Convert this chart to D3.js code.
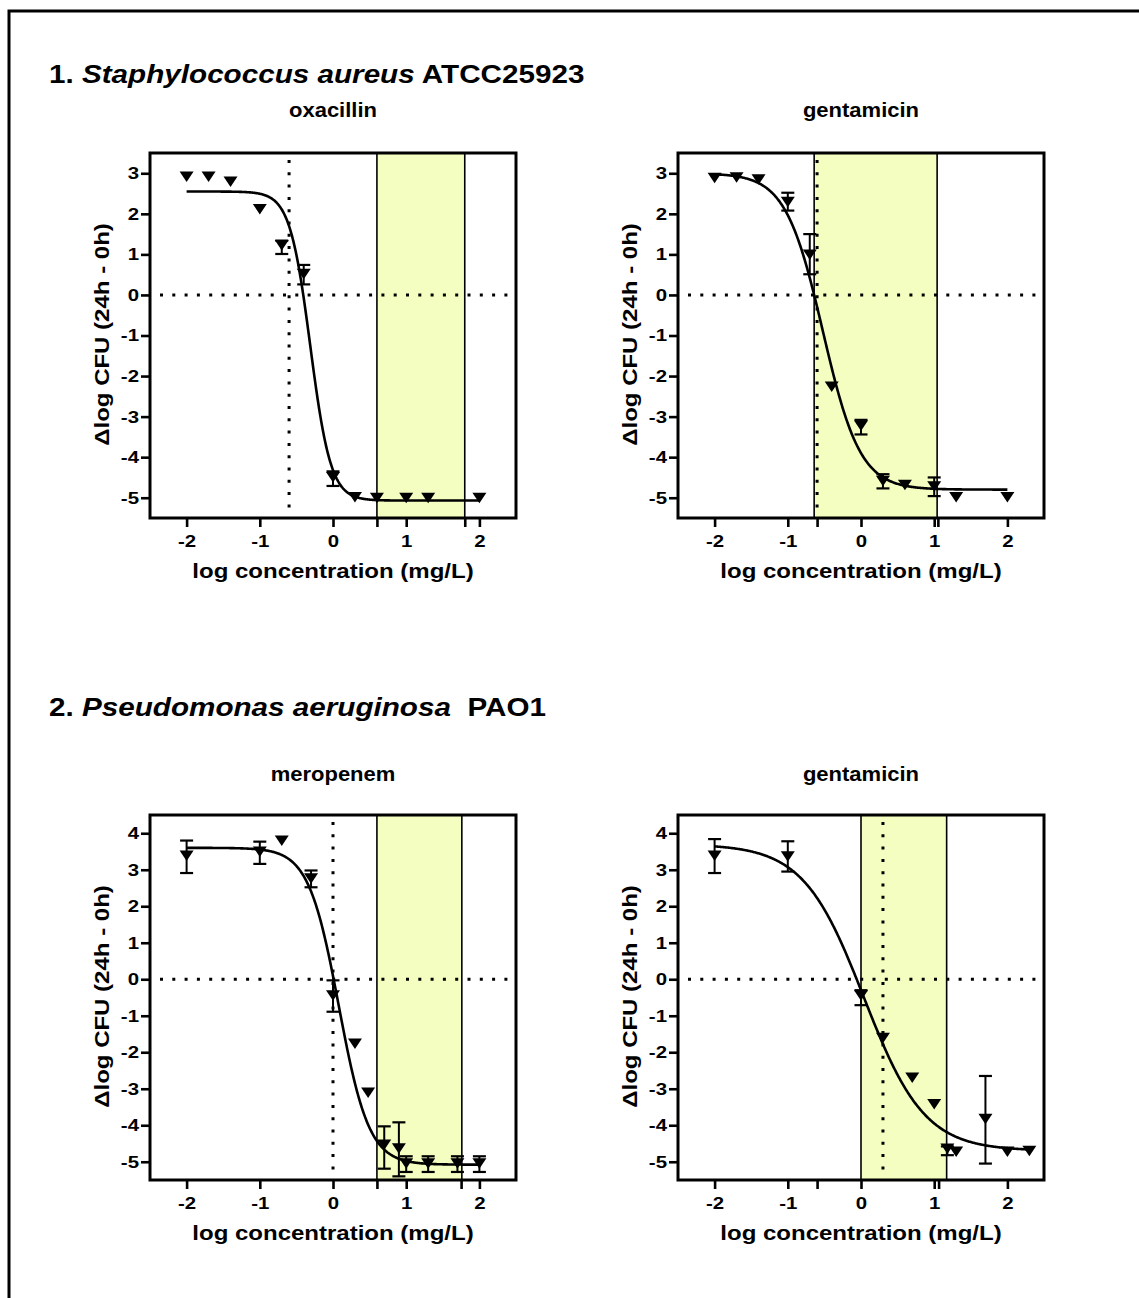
<!DOCTYPE html>
<html>
<head>
<meta charset="utf-8">
<script src="https://cdn.jsdelivr.net/npm/d3@7"></script>
<style>
body { margin: 0; background: #fff; }
text { font-family: "Liberation Sans", Arial, sans-serif; font-weight: bold; fill: #000; }
</style>
</head>
<body>
<svg id="fig" width="1139" height="1298"></svg>
<script>
// ---- data ----
// 1. S. aureus / oxacillin
var saOxaX  = [-2, -1.7, -1.4, -1, -0.7, -0.4, 0, 0.3, 0.6, 1, 1.3, 2];
var saOxaY  = [2.92, 2.92, 2.8, 2.12, 1.23, 0.52, -4.49, -4.98, -5.0, -5.0, -5.0, -5.0];
var saOxaLo = [null, null, null, null, 1.01, 0.26, -4.71, null, null, null, null, null];
var saOxaHi = [null, null, null, null, 1.34, 0.74, -4.35, null, null, null, null, null];
// 1. S. aureus / gentamicin
var saGenX  = [-2, -1.7, -1.4, -1, -0.7, -0.4, 0, 0.3, 0.6, 1, 1.3, 2];
var saGenY  = [2.89, 2.9, 2.85, 2.3, 1.0, -2.26, -3.22, -4.58, -4.68, -4.72, -4.98, -4.98];
var saGenLo = [null, null, null, 2.08, 0.51, null, -3.44, -4.77, null, -4.96, null, null];
var saGenHi = [null, null, null, 2.52, 1.5, null, -3.08, -4.42, null, -4.5, null, null];
// 2. P. aeruginosa / meropenem
var paMerX  = [-2, -1, -0.7, -0.3, 0, 0.3, 0.48, 0.7, 0.9, 1, 1.3, 1.7, 2];
var paMerY  = [3.39, 3.5, 3.8, 2.77, -0.44, -1.76, -3.1, -4.53, -4.63, -5.04, -5.04, -5.04, -5.04];
var paMerLo = [2.91, 3.16, null, 2.52, -0.89, null, null, -5.19, -5.4, -5.28, -5.28, -5.28, -5.28];
var paMerHi = [3.8, 3.77, null, 2.98, -0.03, null, null, -4.03, -3.92, -4.85, -4.85, -4.85, -4.85];
// 2. P. aeruginosa / gentamicin
var paGenX  = [-2, -1, 0, 0.3, 0.7, 1, 1.18, 1.3, 1.7, 2, 2.3];
var paGenY  = [3.39, 3.37, -0.44, -1.6, -2.69, -3.42, -4.64, -4.72, -3.82, -4.72, -4.7];
var paGenLo = [2.91, 2.95, -0.71, null, null, null, -4.82, null, -5.05, null, null];
var paGenHi = [3.84, 3.78, -0.3, null, null, null, -4.58, null, -2.65, null, null];

// sigmoid fits (top, bottom, logEC50, hill slope) and fitted x range, per panel
var fitTop    = [2.55, 3.0, 3.6, 3.7];
var fitBottom = [-5.07, -4.8, -5.08, -4.7];
var fitLogEC  = [-0.31, -0.52, 0.08, 0.04];
var fitHill   = [3.1, 1.7, 2.1, 1.05];
var fitFrom   = [-2, -2, -2, -2];
var fitTo     = [2, 2, 2, 2.3];

// reference lines, shaded ranges, extra x ticks
var dotX      = [-0.6, -0.6, 0, 0.3];
var bandFrom  = [0.6, -0.64, 0.6, 0];
var bandTo    = [1.8, 1.04, 1.76, 1.17];
var extraTick = [[0.6, 1.8], [-0.6, 1.05], [0.6, 1.75], [-0.6, 1.06]];

var xTicks  = [-2, -1, 0, 1, 2];
var yTicks1 = [-5, -4, -3, -2, -1, 0, 1, 2, 3];
var yTicks2 = [-5, -4, -3, -2, -1, 0, 1, 2, 3, 4];
var drugs   = ["oxacillin", "gentamicin", "meropenem", "gentamicin"];

var svg = d3.select("#fig");
var STRETCH = 1.2;

function widen(sel, f) {
	sel.each(function() {
		var len = this.getComputedTextLength();
		d3.select(this).attr("textLength", len * f).attr("lengthAdjust", "spacingAndGlyphs");
	});
}

svg.append("rect").attr("x", 9).attr("y", 11).attr("width", 1160).attr("height", 1320)
	.attr("fill", "none").attr("stroke", "#000").attr("stroke-width", 3);

function panel(i, left, top, yDom, yTicks, xs, ys, lo, hi, subY) {
	var w = 366, h = 365;
	var x = d3.scaleLinear().domain([-2.5, 2.5]).range([left, left + w]);
	var y = d3.scaleLinear().domain(yDom).range([top + h, top]);
	var g = svg.append("g");

	// shaded range
	g.append("rect").attr("x", x(bandFrom[i])).attr("y", top)
		.attr("width", x(bandTo[i]) - x(bandFrom[i])).attr("height", h)
		.attr("fill", "#f3fec0");
	[bandFrom[i], bandTo[i]].forEach(function(v) {
		g.append("line").attr("x1", x(v)).attr("x2", x(v)).attr("y1", top).attr("y2", top + h)
			.attr("stroke", "#000").attr("stroke-width", 1.6);
	});

	// dotted reference lines
	g.append("line").attr("x1", left + 10).attr("x2", left + w - 6).attr("y1", y(0)).attr("y2", y(0))
		.attr("stroke", "#000").attr("stroke-width", 3).attr("stroke-dasharray", "3,9.3");
	g.append("line").attr("x1", x(dotX[i])).attr("x2", x(dotX[i])).attr("y1", top + 7).attr("y2", top + h - 6)
		.attr("stroke", "#000").attr("stroke-width", 3).attr("stroke-dasharray", "3,9.3");

	// fitted curve
	var T = fitTop[i], B = fitBottom[i], C = fitLogEC[i], H = fitHill[i];
	var cx = d3.range(fitFrom[i], fitTo[i] + 0.001, 0.01);
	var line = d3.line()
		.x(function(d) { return x(d); })
		.y(function(d) { return y(B + (T - B) / (1 + Math.pow(10, (d - C) * H))); });
	g.append("path").datum(cx).attr("d", line)
		.attr("fill", "none").attr("stroke", "#000").attr("stroke-width", 2.6);

	// error bars
	var pts = xs.map(function(v, k) { return {x: v, y: ys[k], lo: lo[k], hi: hi[k]}; });
	var eb = pts.filter(function(d) { return d.lo != null; });
	g.selectAll(".eb").data(eb).enter().append("line")
		.attr("x1", function(d) { return x(d.x); }).attr("x2", function(d) { return x(d.x); })
		.attr("y1", function(d) { return y(d.lo); }).attr("y2", function(d) { return y(d.hi); })
		.attr("stroke", "#000").attr("stroke-width", 2);
	["lo", "hi"].forEach(function(key) {
		g.selectAll(".cap" + key).data(eb).enter().append("line")
			.attr("x1", function(d) { return x(d.x) - 6.5; }).attr("x2", function(d) { return x(d.x) + 6.5; })
			.attr("y1", function(d) { return y(d[key]); }).attr("y2", function(d) { return y(d[key]); })
			.attr("stroke", "#000").attr("stroke-width", 2.2);
	});

	// markers: filled down-triangles
	g.selectAll(".pt").data(pts).enter().append("path")
		.attr("d", "M-7,-5L7,-5L0,5.5Z")
		.attr("transform", function(d) { return "translate(" + x(d.x) + "," + y(d.y) + ")"; })
		.attr("fill", "#000");

	// frame
	g.append("rect").attr("x", left).attr("y", top).attr("width", w).attr("height", h)
		.attr("fill", "none").attr("stroke", "#000").attr("stroke-width", 3);

	// axes
	var fmt = function(d) { return String(d); };
	var xa = g.append("g").attr("transform", "translate(0," + (top + h) + ")")
		.call(d3.axisBottom(x).tickValues(xTicks).tickSize(9).tickPadding(8).tickFormat(fmt));
	var xe = g.append("g").attr("transform", "translate(0," + (top + h) + ")")
		.call(d3.axisBottom(x).tickValues(extraTick[i]).tickSize(9).tickFormat(""));
	var ya = g.append("g").attr("transform", "translate(" + left + ",0)")
		.call(d3.axisLeft(y).tickValues(yTicks).tickSize(9).tickPadding(2).tickFormat(fmt));
	[xa, xe, ya].forEach(function(a) {
		a.attr("font-size", null).attr("font-family", null);
		a.select(".domain").remove();
		a.selectAll(".tick line").attr("stroke-width", 2.6);
		a.selectAll("text").attr("font-size", 17);
	});
	widen(xa.selectAll("text"), 1.2);
	widen(ya.selectAll("text"), 1.2);

	// labels
	var xl = g.append("text").attr("x", left + w / 2).attr("y", top + h + 60)
		.attr("text-anchor", "middle").attr("font-size", 20).text("log concentration (mg/L)");
	widen(xl, STRETCH);
	var yl = g.append("text").attr("transform", "translate(" + (left - 41) + "," + (top + h / 2 - 1) + ") rotate(-90)")
		.attr("text-anchor", "middle").attr("font-size", 20).text("\u0394log CFU (24h - 0h)");
	widen(yl, STRETCH);
	var st = g.append("text").attr("x", left + w / 2).attr("y", subY)
		.attr("text-anchor", "middle").attr("font-size", 20).text(drugs[i]);
	widen(st, 1.1);
}

panel(0, 150, 153, [-5.5, 3.5], yTicks1, saOxaX, saOxaY, saOxaLo, saOxaHi, 117);
panel(1, 678, 153, [-5.5, 3.5], yTicks1, saGenX, saGenY, saGenLo, saGenHi, 117);
panel(2, 150, 815, [-5.5, 4.5], yTicks2, paMerX, paMerY, paMerLo, paMerHi, 781);
panel(3, 678, 815, [-5.5, 4.5], yTicks2, paGenX, paGenY, paGenLo, paGenHi, 781);

// section titles
var t1 = svg.append("text").attr("x", 49).attr("y", 83).attr("font-size", 26);
t1.append("tspan").text("1. ");
t1.append("tspan").attr("font-style", "italic").text("Staphylococcus aureus");
t1.append("tspan").text(" ATCC25923");
widen(t1, 1.14);
var t2 = svg.append("text").attr("x", 49).attr("y", 716).attr("font-size", 26);
t2.append("tspan").text("2. ");
t2.append("tspan").attr("font-style", "italic").text("Pseudomonas aeruginosa");
t2.append("tspan").attr("xml:space", "preserve").text("  PAO1");
widen(t2, 1.14);
</script>
</body>
</html>
